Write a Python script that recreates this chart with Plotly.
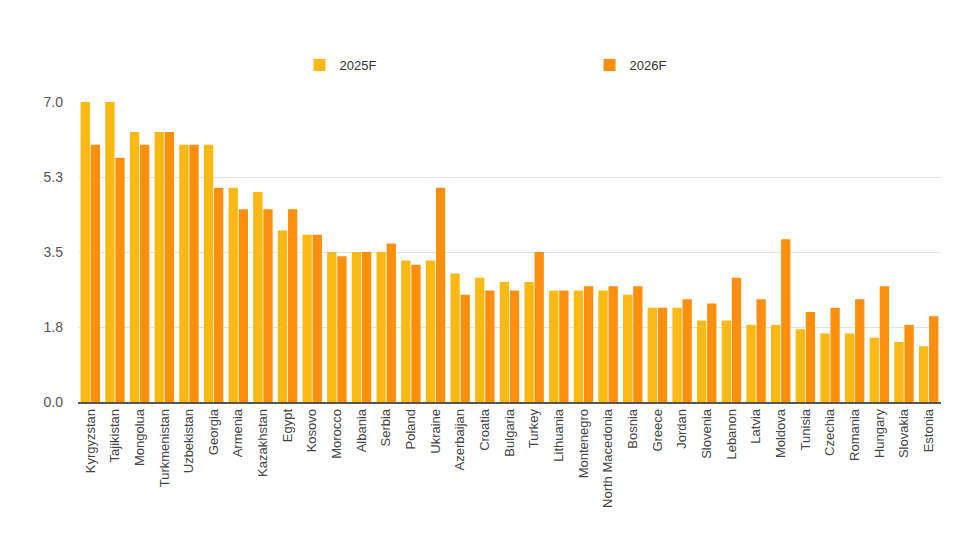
import plotly.graph_objects as go

countries = ["Kyrgyzstan", "Tajikistan", "Mongolua", "Turkmenistan", "Uzbekistan", "Georgia",
             "Armenia", "Kazakhstan", "Egypt", "Kosovo", "Morocco", "Albania", "Serbia", "Poland",
             "Ukraine", "Azerbaijan", "Croatia", "Bulgaria", "Turkey", "Lithuania", "Montenegro",
             "North Macedonia", "Bosnia", "Greece", "Jordan", "Slovenia", "Lebanon", "Latvia",
             "Moldova", "Tunisia", "Czechia", "Romania", "Hungary", "Slovakia", "Estonia"]
f2025 = [7.0, 7.0, 6.3, 6.3, 6.0, 6.0, 5.0, 4.9, 4.0, 3.9, 3.5, 3.5, 3.5, 3.3, 3.3, 3.0,
         2.9, 2.8, 2.8, 2.6, 2.6, 2.6, 2.5, 2.2, 2.2, 1.9, 1.9, 1.8, 1.8, 1.7, 1.6, 1.6, 1.5, 1.4, 1.3]
f2026 = [6.0, 5.7, 6.0, 6.3, 6.0, 5.0, 4.5, 4.5, 4.5, 3.9, 3.4, 3.5, 3.7, 3.2, 5.0, 2.5,
         2.6, 2.6, 3.5, 2.6, 2.7, 2.7, 2.7, 2.2, 2.4, 2.3, 2.9, 2.4, 3.8, 2.1, 2.2, 2.4, 2.7, 1.8, 2.0]
tick_vals = [0, 1.75, 3.5, 5.25, 7.0]
tick_text = ["0.0", "1.8", "3.5", "5.3", "7.0"]

FONT = "Liberation Sans, Arial, sans-serif"

fig = go.Figure()
fig.add_trace(go.Bar(name="2025F", x=countries, y=f2025, marker_color="#FDB913",
                     marker_line_width=0))
fig.add_trace(go.Bar(name="2026F", x=countries, y=f2026, marker_color="#FF8F0C",
                     marker_line_width=0))

fig.update_layout(
    width=955, height=534,
    margin=dict(l=70, r=22, t=94, b=140),
    paper_bgcolor="white", plot_bgcolor="white",
    barmode="group", bargap=0.18, bargroupgap=0.08,
    font=dict(family=FONT, size=12, color="#444444"),
    showlegend=True,
    legend=dict(orientation="h", x=0.2567, xanchor="left", y=1.173, yanchor="top",
                entrywidth=245, entrywidthmode="pixels",
                font=dict(family=FONT, size=13, color="#333333"),
                bgcolor="rgba(0,0,0,0)"),
    xaxis=dict(tickangle=-90, showgrid=False, showline=True, linecolor="#555555",
               linewidth=1.5, ticks="", tickfont=dict(family=FONT, size=13, color="#444444"),
               automargin=False),
    yaxis=dict(range=[0, 7.0], tickvals=tick_vals, ticktext=tick_text,
               showgrid=True, gridcolor="#e4e4e4", gridwidth=1, zeroline=False,
               ticks="", ticklabelstandoff=14,
               tickfont=dict(family=FONT, size=14, color="#555555"), automargin=False),
)

fig.write_html("out.html")
